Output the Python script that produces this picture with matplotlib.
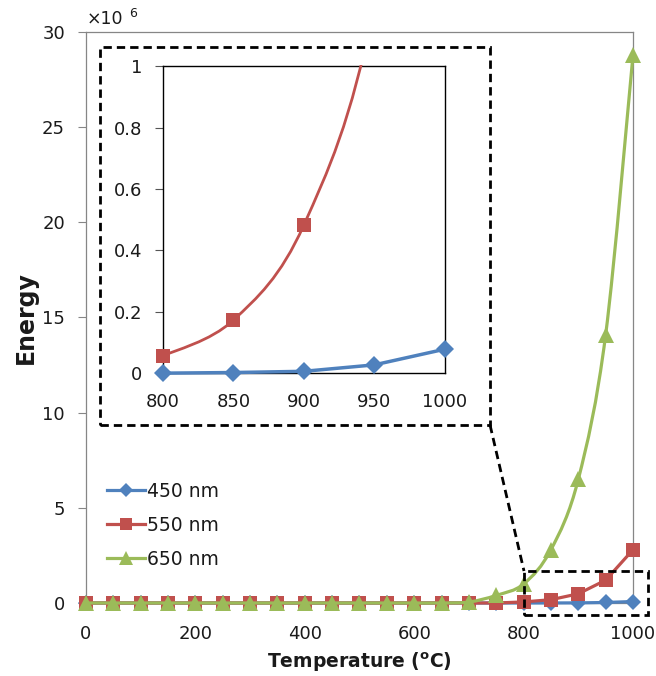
import numpy as np
import matplotlib
matplotlib.use("Agg")
import matplotlib.pyplot as plt
from matplotlib.path import Path
from matplotlib.patches import PathPatch, Rectangle
from matplotlib.lines import Line2D

plt.rcParams['font.family'] = ['DejaVu Sans']
plt.rcParams['mathtext.fontset'] = 'dejavusans'

# ---- data (values in units of 10^6) ----
temps = [0, 50, 100, 150, 200, 250, 300, 350, 400, 450, 500, 550, 600, 650,
         700, 750, 800, 850, 900, 950, 1000]
e450 = [0]*16 + [0.0, 0.002, 0.006, 0.027, 0.078]
e550 = [0]*16 + [0.056, 0.173, 0.483, 1.2, 2.8]
e650 = [0]*14 + [0.05, 0.4, 1.0, 2.8, 6.5, 14.1, 28.8]
labels = ['450 nm', '550 nm', '650 nm']
main_xticks = [0, 200, 400, 600, 800, 1000]
main_yticks = [0, 5, 10, 15, 20, 25, 30]
inset_xticks = [800, 850, 900, 950, 1000]
inset_yticks = [0, 0.2, 0.4, 0.6, 0.8, 1]
inset_ylabels = ['0', '0.2', '0.4', '0.6', '0.8', '1']

c_blue, c_red, c_green = '#4F81BD', '#C0504D', '#9BBB59'
txt = '#1a1a1a'


def smooth_path(xs, ys):
    xs = np.asarray(xs, float); ys = np.asarray(ys, float)
    n = len(xs)
    verts = [(xs[0], ys[0])]
    codes = [Path.MOVETO]
    for i in range(n - 1):
        i0 = max(i - 1, 0); i3 = min(i + 2, n - 1)
        c1 = (xs[i] + (xs[i+1] - xs[i0]) / 6, ys[i] + (ys[i+1] - ys[i0]) / 6)
        c2 = (xs[i+1] - (xs[i3] - xs[i]) / 6, ys[i+1] - (ys[i3] - ys[i]) / 6)
        verts += [c1, c2, (xs[i+1], ys[i+1])]
        codes += [Path.CURVE4] * 3
    return Path(verts, codes)


fig = plt.figure(figsize=(6.56, 6.76), dpi=100)
ax = fig.add_axes([0.131, 0.108, 0.834, 0.845])

ax.plot(temps, e450, color=c_blue, lw=2.3, marker='D', markersize=8.5,
        markeredgewidth=0, clip_on=False, zorder=3)
ax.plot(temps, e550, color=c_red, lw=2.3, marker='s', markersize=10,
        markeredgewidth=0, clip_on=False, zorder=4)
ax.add_patch(PathPatch(smooth_path(temps, e650), facecolor='none',
                       edgecolor=c_green, lw=2.3, zorder=5, clip_on=False))
ax.plot(temps, e650, linestyle='none', color=c_green, marker='^',
        markersize=11, markeredgewidth=0, clip_on=False, zorder=6)

ax.set_xlim(0, 1000)
ax.set_ylim(0, 30)
ax.set_xticks(main_xticks)
ax.set_yticks(main_yticks)
ax.tick_params(axis='x', length=0, labelsize=13, pad=16, colors=txt)
ax.tick_params(axis='y', length=6, width=0.8, color='#868686', labelsize=13,
               pad=9, labelcolor=txt)
for s in ax.spines.values():
    s.set_color('#868686')
    s.set_linewidth(0.9)
ax.set_xlabel(r'Temperature ($\mathbf{^{o}}$C)', fontsize=13.5, fontweight='bold',
              labelpad=5, color=txt)
ax.set_ylabel('Energy', fontsize=17, fontweight='bold', labelpad=3, color=txt)

fig.text(0.1326, 0.9645, '×10', fontsize=12.5, ha='left', va='baseline', color=txt)
fig.text(0.1966, 0.975, '6', fontsize=9, ha='left', va='baseline', color=txt)

# legend
handles = [Line2D([], [], color=c_blue, lw=2.3, marker='D', markersize=7.5, markeredgewidth=0),
           Line2D([], [], color=c_red, lw=2.3, marker='s', markersize=9, markeredgewidth=0),
           Line2D([], [], color=c_green, lw=2.3, marker='^', markersize=10, markeredgewidth=0)]
fig.legend(handles, labels, loc='upper left', bbox_to_anchor=(0.1627, 0.2870),
           frameon=False, fontsize=13.5, handlelength=2.05, handletextpad=0.1,
           labelspacing=0.8, borderaxespad=0, borderpad=0, labelcolor=txt)

# dashed boxes and connector
dash = (0, (3, 1.8))
ax.add_patch(Rectangle((25.6, 9.35), 738.6 - 25.6, 29.2 - 9.35, fill=False,
                       ls=dash, lw=2, ec='black', zorder=7, clip_on=False))
ax.add_patch(Rectangle((800.7, -0.63), 1027 - 800.7, 1.68 + 0.63, fill=False,
                       ls=dash, lw=2, ec='black', zorder=7, clip_on=False))
ax.plot([738.6, 800.7], [9.35, 1.68], color='black', ls=dash, lw=2,
        zorder=7, clip_on=False)

# inset
axi = fig.add_axes([0.2485, 0.448, 0.4295, 0.454])
clip_rect = Rectangle((-0.1, -0.1), 1.2, 1.103, transform=axi.transAxes)
p = axi.add_patch(PathPatch(smooth_path(temps[16:], e550[16:]), facecolor='none',
                            edgecolor=c_red, lw=2, zorder=3))
p.set_clip_path(clip_rect)
l, = axi.plot(temps[16:], e550[16:], linestyle='none', color=c_red, marker='s',
              markersize=10, markeredgewidth=0, zorder=4)
l.set_clip_path(clip_rect)
axi.plot(temps[16:], e450[16:], color=c_blue, lw=2.5, marker='D',
         markersize=9, markeredgewidth=0, zorder=5, clip_on=False)
axi.set_xlim(800, 1000)
axi.set_ylim(0, 1)
axi.set_xticks(inset_xticks)
axi.set_yticks(inset_yticks)
axi.set_yticklabels(inset_ylabels)
axi.tick_params(axis='x', length=0, labelsize=13, pad=14, colors=txt)
axi.tick_params(axis='y', length=6, width=0.8, color='#555555', labelsize=13,
                pad=9, labelcolor=txt)
for s in axi.spines.values():
    s.set_color('black')
    s.set_linewidth(1.0)

fig.savefig('out.png', dpi=100)
